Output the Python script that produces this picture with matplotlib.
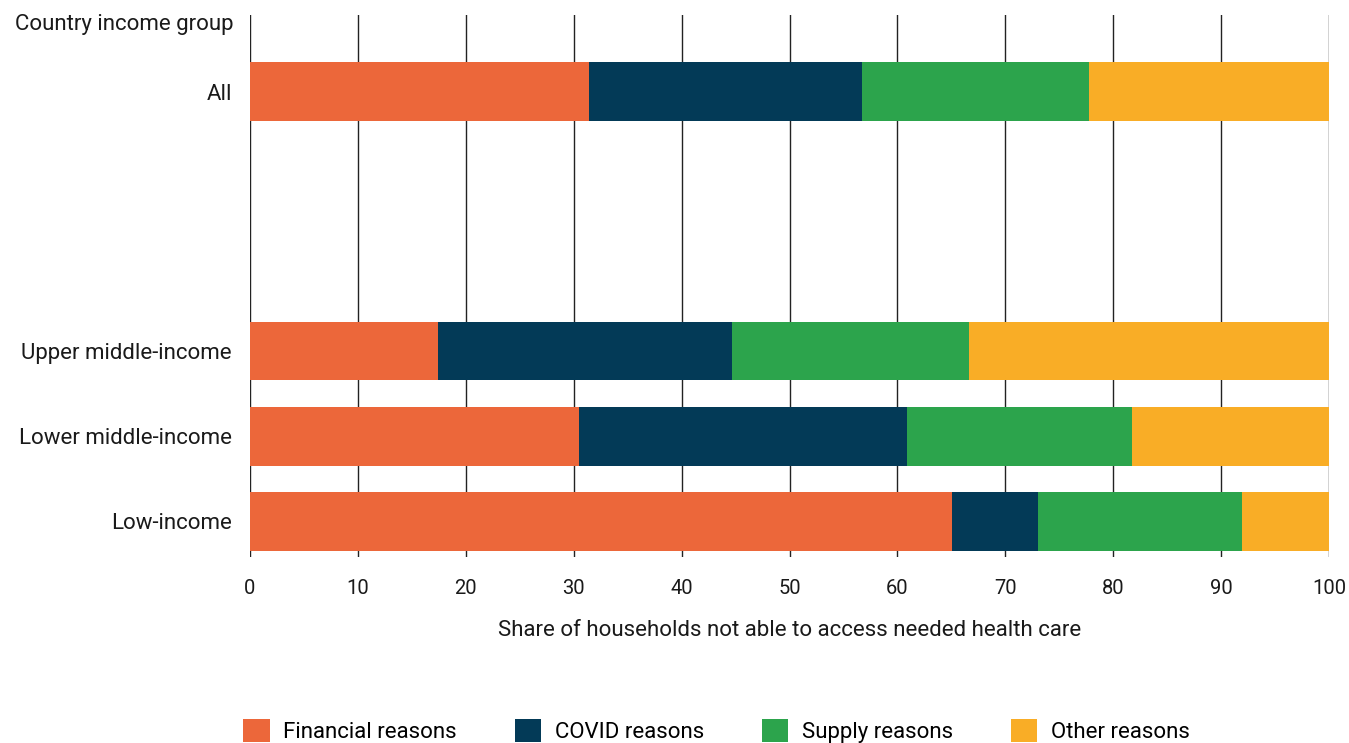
import matplotlib.pyplot as plt
import numpy as np

plt.rcParams["font.family"] = ["Roboto", "DejaVu Sans"]

# ---------------------------------------------------------------------------
# Data
# ---------------------------------------------------------------------------
groups = ["Low-income", "Lower middle-income", "Upper middle-income", "All"]
positions = [0, 1, 2, 5.05]

financial = [65.1, 30.5, 17.4, 31.4]
covid     = [7.9, 30.4, 27.3, 25.3]
supply    = [18.9, 20.8, 21.9, 21.1]
other     = [8.1, 18.3, 33.4, 22.2]

series_names = ["Financial reasons", "COVID reasons", "Supply reasons", "Other reasons"]
COLORS = ["#EC673A", "#033A57", "#2CA44C", "#F9AD26"]

# ---------------------------------------------------------------------------
# Plot
# ---------------------------------------------------------------------------
fig = plt.figure(figsize=(13.49, 7.43), dpi=100)
ax = fig.add_axes([0.1853, 0.2503, 0.7999, 0.7295])

left = np.zeros(len(groups))
for name, vals, color in zip(series_names, [financial, covid, supply, other], COLORS):
    ax.barh(positions, vals, left=left, height=0.69, color=color, label=name, zorder=3)
    left += np.array(vals)

ax.set_xlim(0, 100)
ax.set_ylim(-0.42, 5.95)
ax.set_xticks(np.arange(0, 101, 10))
ax.set_yticks(positions)
ax.set_yticklabels(groups, fontsize=16, color="#1a1a1a")
ax.tick_params(axis="y", length=0, pad=13)
ax.tick_params(axis="x", length=0, pad=16, labelsize=14.5, labelcolor="#1a1a1a")
ax.grid(axis="x", color="#222222", linewidth=1.0, zorder=0)
for s in ["top", "right", "bottom", "left"]:
    ax.spines[s].set_visible(False)

ax.text(-0.015, 5.84, "Country income group", transform=ax.get_yaxis_transform(),
        ha="right", va="center", fontsize=16, color="#1a1a1a")

ax.set_xlabel("Share of households not able to access needed health care",
              fontsize=16, color="#1a1a1a", labelpad=16)

fig.legend(loc="lower center", bbox_to_anchor=(0.531, -0.027), ncol=4,
           frameon=False, fontsize=16, handlelength=1.2, handleheight=1.2,
           columnspacing=2.6, handletextpad=0.6)

plt.savefig("out.png", dpi=100)
plt.close()
